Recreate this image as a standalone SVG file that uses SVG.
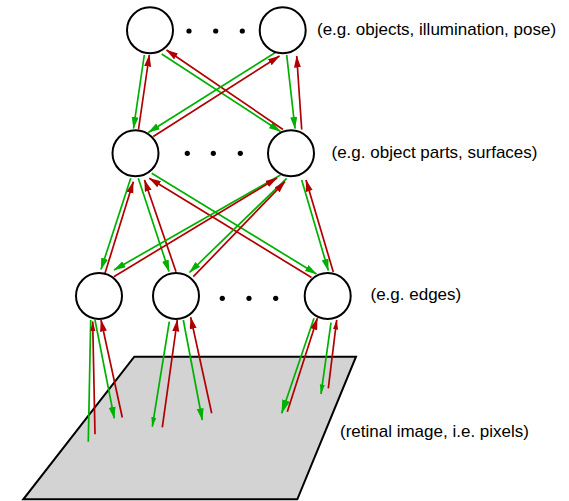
<svg xmlns="http://www.w3.org/2000/svg" width="569" height="501" viewBox="0 0 569 501">
<style>
.node{fill:#fff;stroke:#000;stroke-width:2}
.dot{fill:#000}
.lbl{font-family:"Liberation Sans",Arial,sans-serif;font-size:17px;fill:#000}
.g{stroke:#00b000;stroke-width:1.7;fill:none;marker-end:url(#ag)}
.r{stroke:#b00000;stroke-width:1.7;fill:none;marker-end:url(#ar)}
</style>
<defs>
<marker id="ag" markerUnits="userSpaceOnUse" markerWidth="13" markerHeight="8" refX="11.5" refY="3.5" orient="auto"><path d="M0,0 L12,3.5 L0,7 z" fill="#00b000"/></marker>
<marker id="agL" markerUnits="userSpaceOnUse" markerWidth="15" markerHeight="9" refX="13.5" refY="4" orient="auto"><path d="M0,0 L14,4 L0,8 z" fill="#00b000"/></marker>
<marker id="agS" markerUnits="userSpaceOnUse" markerWidth="11" markerHeight="6" refX="9.5" refY="2.5" orient="auto"><path d="M0,0 L10,2.5 L0,5 z" fill="#00b000"/></marker>
<marker id="ar" markerUnits="userSpaceOnUse" markerWidth="13" markerHeight="8" refX="11.5" refY="3.5" orient="auto"><path d="M0,0 L12,3.5 L0,7 z" fill="#b00000"/></marker>
<marker id="arS" markerUnits="userSpaceOnUse" markerWidth="11" markerHeight="6" refX="9.5" refY="2.5" orient="auto"><path d="M0,0 L10,2.5 L0,5 z" fill="#b00000"/></marker>
</defs>

<g id="retina">
<polygon points="134.3,356.7 356,356.7 297.3,499.3 23.3,499.3" fill="#d3d3d3" stroke="#000" stroke-width="2"/>
</g>

<g id="connectors">
<!-- top to middle -->
<line class="g" x1="144.3" y1="55" x2="133.5" y2="128.5"/>
<line class="r" x1="138.5" y1="129.5" x2="149.3" y2="55"/>
<line class="g" x1="161.7" y1="54" x2="280.5" y2="131.5"/>
<line class="r" x1="283" y1="129.5" x2="166.5" y2="50"/>
<line class="g" x1="275" y1="52.7" x2="148.3" y2="132.5"/>
<line class="r" x1="153.3" y1="136.5" x2="279.5" y2="56"/>
<line class="g" x1="286.7" y1="55" x2="295" y2="128.5"/>
<line class="r" x1="301.7" y1="129.5" x2="296.7" y2="56"/>
<!-- middle to bottom -->
<line class="g" x1="130.7" y1="178.3" x2="101" y2="269.5"/>
<line class="r" x1="105" y1="273.3" x2="133.3" y2="181.7"/>
<line class="g" x1="138.3" y1="178.3" x2="169" y2="271.5"/>
<line class="r" x1="176" y1="271.7" x2="144.5" y2="180"/>
<line class="g" x1="151.7" y1="173.3" x2="316.5" y2="274"/>
<line class="r" x1="311.5" y1="277.5" x2="149.3" y2="178.3"/>
<line class="g" x1="280.5" y1="175" x2="114" y2="270"/>
<line class="r" x1="113.8" y1="276.7" x2="277" y2="178"/>
<line class="g" x1="286.7" y1="178.3" x2="189.5" y2="272.5"/>
<line class="r" x1="193.3" y1="276.7" x2="285" y2="181.7"/>
<line class="g" x1="301.7" y1="180" x2="328.3" y2="270.5"/>
<line class="r" x1="333.3" y1="272" x2="306" y2="180"/>
<!-- bottom to retina -->
<line x1="90.7" y1="320" x2="88.3" y2="441.7" stroke="#00b000" stroke-width="1.7"/>
<line class="r" x1="95" y1="434.3" x2="92.7" y2="321.5" style="marker-end:url(#arS)"/>
<line class="g" x1="95" y1="320" x2="114.3" y2="418.3"/>
<line class="r" x1="122.3" y1="417.5" x2="101" y2="320"/>
<line class="g" x1="169.3" y1="321.7" x2="152.3" y2="426.7" style="marker-end:url(#agS)"/>
<line class="r" x1="162.3" y1="427.3" x2="177.3" y2="320"/>
<line class="g" x1="183.3" y1="320" x2="202.3" y2="420"/>
<line class="r" x1="211.7" y1="413.3" x2="190.7" y2="317.3"/>
<line class="g" x1="314" y1="318.3" x2="281.7" y2="413.3" style="marker-end:url(#agL)"/>
<line class="r" x1="287.3" y1="411.7" x2="317.3" y2="318.3"/>
<line class="g" x1="331" y1="322.7" x2="321" y2="394" style="marker-end:url(#agS)"/>
<line class="r" x1="328.3" y1="388.3" x2="336.7" y2="320" style="marker-end:url(#arS)"/>
</g>

<g id="top1"><circle class="node" cx="150" cy="30.3" r="23"/></g>
<g id="top2"><circle class="node" cx="282.7" cy="30.3" r="23"/></g>
<g id="top-dots"><circle class="dot" cx="189" cy="31" r="2.6"/><circle class="dot" cx="215.7" cy="31" r="2.6"/><circle class="dot" cx="242.3" cy="31" r="2.6"/></g>
<g id="mid1"><circle class="node" cx="135.5" cy="153.3" r="23"/></g>
<g id="mid2"><circle class="node" cx="291" cy="153.3" r="23"/></g>
<g id="mid-dots"><circle class="dot" cx="187.3" cy="153.3" r="2.6"/><circle class="dot" cx="213.3" cy="153.3" r="2.6"/><circle class="dot" cx="240.3" cy="153.3" r="2.6"/></g>
<g id="bot1"><circle class="node" cx="99" cy="296" r="23"/></g>
<g id="bot2"><circle class="node" cx="176" cy="296" r="23"/></g>
<g id="bot3"><circle class="node" cx="327.7" cy="296" r="23"/></g>
<g id="bot-dots"><circle class="dot" cx="222.3" cy="298.3" r="2.6"/><circle class="dot" cx="249" cy="298.3" r="2.6"/><circle class="dot" cx="275.7" cy="298.3" r="2.6"/></g>

<g id="labels">
<text class="lbl" x="317" y="34.5">(e.g. objects, illumination, pose)</text>
<text class="lbl" x="331.5" y="158">(e.g. object parts, surfaces)</text>
<text class="lbl" x="370.5" y="299.7">(e.g. edges)</text>
<text class="lbl" x="340" y="437">(retinal image, i.e. pixels)</text>
</g>
</svg>
